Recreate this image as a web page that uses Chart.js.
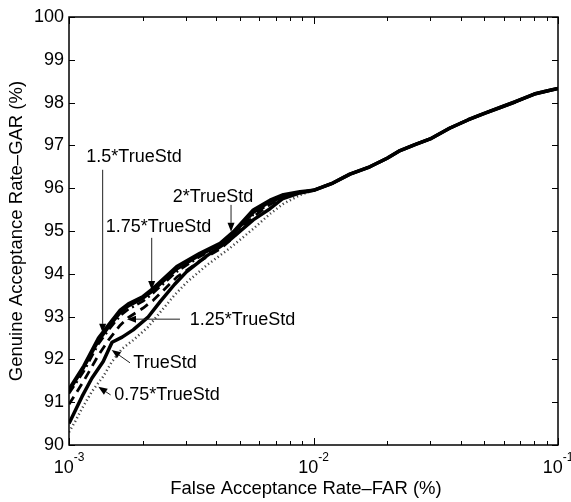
<!DOCTYPE html>
<html><head><meta charset="utf-8">
<script src="https://cdn.jsdelivr.net/npm/chart.js@4.4.0/dist/chart.umd.min.js"></script>
<style>html,body{margin:0;padding:0;background:#fff;}</style>
</head><body>
<canvas id="c" width="571" height="502"></canvas>
<script>
// ---- data (FAR in %, GAR in %) ----
const farHead   = [0.001, 0.00115, 0.00132, 0.00145, 0.00162, 0.00175, 0.00201, 0.00221, 0.00276, 0.00343, 0.00415, 0.0047, 0.00567, 0.00664, 0.00753, 0.0088];
const gar2Std   = [91.3, 91.85, 92.5, 92.8, 93.15, 93.3, 93.47, 93.66, 94.17, 94.48, 94.71, 94.98, 95.49, 95.72, 95.85, 95.92];
const gar175Std = [91.25, 91.8, 92.42, 92.74, 93.08, 93.24, 93.42, 93.6, 94.1, 94.43, 94.67, 94.93, 95.42, 95.68, 95.83, 95.91];
const gar15Std  = [91.2, 91.72, 92.36, 92.68, 93.02, 93.17, 93.36, 93.55, 94.05, 94.4, 94.64, 94.9, 95.38, 95.65, 95.81, 95.9];
const gar125Std = [90.95, 91.5, 92.1, 92.45, 92.8, 92.98, 93.2, 93.38, 93.92, 94.3, 94.58, 94.85, 95.33, 95.62, 95.8, 95.9];
const farLow     = [0.001, 0.00106, 0.00113, 0.00124, 0.00138, 0.0015, 0.00165, 0.00183, 0.0021, 0.00236, 0.0027, 0.00303, 0.00366, 0.00455, 0.00567, 0.00664, 0.0075, 0.0088];
const garTrueStd = [90.5, 90.8, 91.13, 91.56, 91.95, 92.4, 92.52, 92.69, 92.98, 93.35, 93.75, 94.05, 94.42, 94.79, 95.26, 95.52, 95.76, 95.89];
const gar075Std  = [90.3, 90.55, 90.85, 91.25, 91.6, 91.95, 92.25, 92.45, 92.75, 93.1, 93.5, 93.8, 94.2, 94.6, 95.05, 95.4, 95.63, 95.84];
const farTail = [0.01, 0.012, 0.0141, 0.017, 0.02, 0.0226, 0.026, 0.03, 0.036, 0.043, 0.05, 0.0576, 0.067, 0.08, 0.09, 0.1];
const garTail = [95.95, 96.12, 96.33, 96.5, 96.7, 96.88, 97.02, 97.15, 97.4, 97.6, 97.75, 97.88, 98.02, 98.2, 98.27, 98.33];
const xTickValues = [0.001, 0.01, 0.1];
const xTickExponents = ['-3', '-2', '-1'];
const yTickValues = [90, 91, 92, 93, 94, 95, 96, 97, 98, 99, 100];
const seriesNames = ['2*TrueStd', '1.75*TrueStd', '1.5*TrueStd', '1.25*TrueStd', 'TrueStd', '0.75*TrueStd'];
// annotation labels: text, text position (FAR, GAR), arrow from -> tip (FAR, GAR)
const annoLabels = ['1.5*TrueStd', '1.75*TrueStd', '2*TrueStd', '1.25*TrueStd', 'TrueStd', '0.75*TrueStd'];
const annoTextFar = [0.001845, 0.002323, 0.00388, 0.005125, 0.00247, 0.002516];
const annoTextGar = [96.73, 95.09, 95.79, 92.92, 91.92, 91.17];
const annoFromFar = [0.001373, 0.002179, 0.0046, 0.002844, 0.001776, 0.00148];
const annoFromGar = [96.43, 94.84, 95.61, 92.94, 91.92, 91.17];
const annoTipFar  = [0.001373, 0.002179, 0.0046, 0.001727, 0.001495, 0.001318];
const annoTipGar  = [92.62, 93.62, 94.98, 92.94, 92.22, 91.36];

function pts(xs, ys) {
  return xs.map((x, i) => ({x: x, y: ys[i]})).concat(farTail.map((x, i) => ({x: x, y: garTail[i]})));
}
const FONT = '"Liberation Sans", Arial, sans-serif';
const styles = [
  {w: 3.5, dash: []},
  {w: 2.5, dash: []},
  {w: 2.5, dash: [9, 4, 2, 4]},
  {w: 2.8, dash: [9, 6]},
  {w: 3.5, dash: []},
  {w: 2.5, dash: [1.2, 2.8]}
];
const seriesData = [
  pts(farHead, gar2Std), pts(farHead, gar175Std), pts(farHead, gar15Std),
  pts(farHead, gar125Std), pts(farLow, garTrueStd), pts(farLow, gar075Std)
];
const datasets = seriesNames.map((n, i) => ({
  label: n, data: seriesData[i], borderColor: i === 5 ? '#444' : '#000',
  borderWidth: styles[i].w, borderDash: styles[i].dash, pointRadius: 0,
  tension: 0, fill: false, borderCapStyle: 'butt', borderJoinStyle: 'round'
}));

const decor = {
  id: 'decor',
  afterDraw(chart) {
    const ctx = chart.ctx, a = chart.chartArea, xs = chart.scales.x, ys = chart.scales.y;
    ctx.save();
    ctx.strokeStyle = '#000'; ctx.fillStyle = '#000';
    // box
    ctx.lineWidth = 1.5;
    ctx.strokeRect(a.left, a.top, a.right - a.left, a.bottom - a.top);
    // y ticks
    ctx.lineWidth = 1;
    ctx.beginPath();
    yTickValues.forEach(v => {
      const y = Math.round(ys.getPixelForValue(v)) + 0.5;
      ctx.moveTo(a.left, y); ctx.lineTo(a.left + 6, y);
      ctx.moveTo(a.right, y); ctx.lineTo(a.right - 6, y);
    });
    // x ticks (major + minor)
    for (let d = 0; d < xTickValues.length; d++) {
      const base = xTickValues[d];
      const x = Math.round(xs.getPixelForValue(base)) + 0.5;
      ctx.moveTo(x, a.bottom); ctx.lineTo(x, a.bottom - 7);
      ctx.moveTo(x, a.top); ctx.lineTo(x, a.top + 7);
      if (d < xTickValues.length - 1) {
        for (let m = 2; m <= 9; m++) {
          const xm = Math.round(xs.getPixelForValue(base * m)) + 0.5;
          ctx.moveTo(xm, a.bottom); ctx.lineTo(xm, a.bottom - 4);
          ctx.moveTo(xm, a.top); ctx.lineTo(xm, a.top + 4);
        }
      }
    }
    ctx.stroke();
    // x tick labels 10^n
    ctx.textBaseline = 'alphabetic';
    xTickValues.forEach((v, i) => {
      const x = xs.getPixelForValue(v);
      ctx.font = '18px ' + FONT;
      const w1 = ctx.measureText('10').width;
      ctx.font = '12px ' + FONT;
      const w2 = ctx.measureText(xTickExponents[i]).width;
      const x0 = x - (w1 + w2) / 2;
      ctx.textAlign = 'left';
      ctx.font = '18px ' + FONT;
      ctx.fillText('10', x0, 473);
      ctx.font = '12px ' + FONT;
      ctx.fillText(xTickExponents[i], x0 + w1, 461);
    });
    // axis titles
    ctx.font = '18.5px ' + FONT;
    ctx.textAlign = 'center'; ctx.textBaseline = 'middle';
    ctx.fillText('False Acceptance Rate\u2013FAR (%)', 306, 489);
    ctx.save();
    ctx.translate(17, (a.top + a.bottom) / 2);
    ctx.rotate(-Math.PI / 2);
    ctx.fillText('Genuine Acceptance Rate\u2013GAR (%)', 0, 0);
    ctx.restore();
    // annotations
    ctx.font = '18px ' + FONT;
    annoLabels.forEach((t, i) => {
      ctx.fillStyle = '#000';
      ctx.fillText(t, xs.getPixelForValue(annoTextFar[i]), ys.getPixelForValue(annoTextGar[i]));
      const x0 = xs.getPixelForValue(annoFromFar[i]), y0 = ys.getPixelForValue(annoFromGar[i]);
      const x1 = xs.getPixelForValue(annoTipFar[i]), y1 = ys.getPixelForValue(annoTipGar[i]);
      const ang = Math.atan2(y1 - y0, x1 - x0);
      const L = 9, H = 3.5;
      const bx = x1 - L * Math.cos(ang), by = y1 - L * Math.sin(ang);
      ctx.strokeStyle = '#222'; ctx.lineWidth = 1;
      ctx.beginPath(); ctx.moveTo(x0, y0); ctx.lineTo(bx, by); ctx.stroke();
      ctx.beginPath();
      ctx.moveTo(x1, y1);
      ctx.lineTo(bx + H * Math.sin(ang), by - H * Math.cos(ang));
      ctx.lineTo(bx - H * Math.sin(ang), by + H * Math.cos(ang));
      ctx.closePath(); ctx.fill();
    });
    ctx.restore();
  }
};

new Chart(document.getElementById('c'), {
  type: 'line',
  data: {datasets: datasets},
  options: {
    responsive: false, animation: false,
    layout: {padding: {top: 17, right: 13, left: 0, bottom: 0}},
    plugins: {legend: {display: false}, tooltip: {enabled: false}},
    scales: {
      x: {
        type: 'logarithmic', min: 0.001, max: 0.1,
        grid: {display: false, drawTicks: false}, border: {display: false},
        ticks: {display: false},
        afterFit(s) { s.height = 57; }
      },
      y: {
        type: 'linear', min: 90, max: 100,
        grid: {display: false, drawTicks: false}, border: {display: false},
        ticks: {font: {family: FONT, size: 18}, color: '#000', padding: 5},
        afterBuildTicks(s) { s.ticks = yTickValues.map(v => ({value: v})); },
        afterFit(s) { s.width = 69; }
      }
    }
  },
  plugins: [decor]
});
</script>
</body></html>
